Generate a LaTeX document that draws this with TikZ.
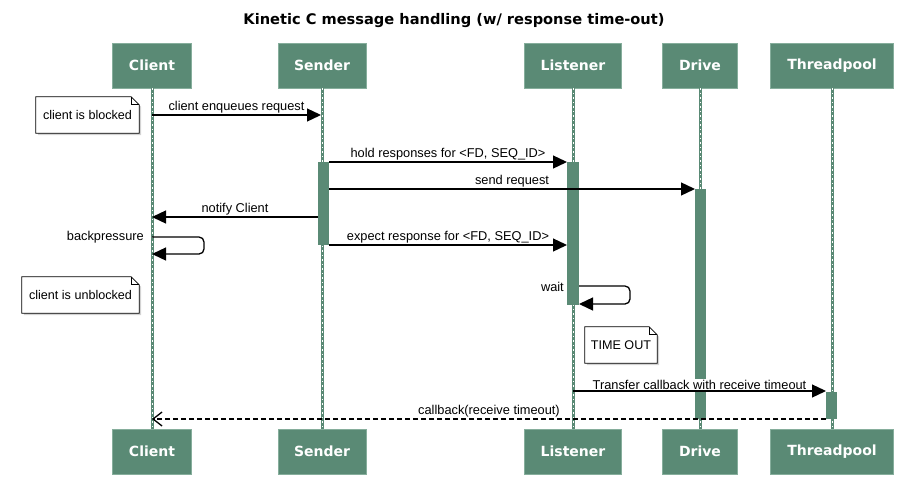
\documentclass[tikz,border=0pt]{standalone}
\usepackage{fontspec}
\setmainfont{Liberation Sans}
\newfontfamily\headfont{DejaVu Sans}
\usetikzlibrary{arrows.meta,shadows}
\definecolor{lifegreen}{HTML}{5A8A75}
\definecolor{boxedge}{HTML}{86AE9C}
\pgfdeclarelayer{back}
\pgfsetlayers{back,main}
\tikzset{
  actor/.style={fill=lifegreen, draw=boxedge, line width=0.8pt, text=white, font=\headfont\bfseries\fontsize{14}{16}\selectfont, minimum height=45pt, inner sep=0pt},
  life/.style={draw=lifegreen, line width=3pt},
  lifedash/.style={draw=white, line width=0.6pt, dash pattern=on 1.5pt off 3pt},
  act/.style={fill=lifegreen, draw=none},
  msg/.style={draw=black, line width=1.3pt, -{Triangle[length=14pt,width=13pt]}},
  ret/.style={draw=black, line width=1.3pt, dash pattern=on 5pt off 3pt, -{Straight Barb[length=9pt,width=14pt]}},
  lab/.style={font=\fontsize{12.8}{15}\selectfont, inner sep=1pt, anchor=south},
  notebox/.style={minimum height=36pt, font=\fontsize{12.6}{15}\selectfont, inner sep=0pt},
  noteline/.style={fill=white, draw=black, line width=0.8pt},
}
\newcommand{\notefold}[1]{%
  \begin{pgfonlayer}{back}
    \path[noteline, drop shadow={shadow xshift=2pt, shadow yshift=-2pt, opacity=0.35}]
      (#1.north west) -- ([xshift=-8pt]#1.north east) -- ([yshift=-8pt]#1.north east)
      -- (#1.south east) -- (#1.south west) -- cycle;
    \draw[line width=0.8pt] ([xshift=-8pt]#1.north east) |- ([yshift=-8pt]#1.north east);
  \end{pgfonlayer}}

\begin{document}
\begin{tikzpicture}[x=1pt,y=-1pt]
  \useasboundingbox (0,0) rectangle (906,482);
  \node[font=\headfont\bfseries\fontsize{14.6}{17}\selectfont] (title) at (454,21) {Kinetic C message handling (w/ response time-out)};

  % participants, top and bottom, with lifelines
  \foreach \n/\t/\x/\w in {client/Client/152/79, sender/Sender/322/88, listener/Listener/573/97, drive/Drive/700/75, pool/Threadpool/832/123}{
    \node[actor, minimum width=\w pt] (\n) at (\x,65.5) {\t};
    \node[actor, minimum width=\w pt] (\n-b) at (\x,451.5) {\t};
    \draw[life] (\n.south) -- (\n-b.north);
    \draw[lifedash] (\n.south) -- (\n-b.north);
  }

  % activations
  \path[act] (318,162) rectangle (329,245);
  \path[act] (567,162) rectangle (579,305);
  \path[act] (695,189) rectangle (706,419);
  \path[act] (826,392) rectangle (837,419);

  % notes
  \node[notebox, minimum width=103pt] (blocked) at (87.5,115) {client is blocked};
  \notefold{blocked}
  \node[notebox, minimum width=117pt] (unblocked) at (80.5,295) {client is unblocked};
  \notefold{unblocked}
  \node[notebox, minimum width=72pt] (timeout) at (621,345) {TIME OUT};
  \notefold{timeout}

  % messages
  \coordinate (enq-a) at (152,115);  \coordinate (enq-b) at (321,115);
  \draw[msg] (enq-a) -- node[lab] {client enqueues request} (enq-b);

  \coordinate (hold-a) at (329,162); \coordinate (hold-b) at (567,162);
  \draw[msg] (hold-a) -- node[lab] {hold responses for <FD, SEQ\_ID>} (hold-b);

  \coordinate (send-a) at (329,189); \coordinate (send-b) at (695,189);
  \draw[msg] (send-a) -- node[lab] {send request} (send-b);

  \coordinate (notify-a) at (318,217); \coordinate (notify-b) at (152,217);
  \draw[msg] (notify-a) -- node[lab] {notify Client} (notify-b);

  \coordinate (bp-a) at (152,237); \coordinate (bp-b) at (152,254);
  \draw[msg, rounded corners=5pt] (bp-a) -- ++(52,0) |- (bp-b);
  \node[lab, anchor=east] (bp-lab) at ([xshift=-7pt]bp-a) {backpressure};

  \coordinate (exp-a) at (329,245); \coordinate (exp-b) at (567,245);
  \draw[msg] (exp-a) -- node[lab] {expect response for <FD, SEQ\_ID>} (exp-b);

  \coordinate (wait-a) at (579,286); \coordinate (wait-b) at (579,304);
  \draw[msg, rounded corners=5pt] (wait-a) -- ++(51,0) |- (wait-b);
  \node[lab, anchor=east] (wait-lab) at (565,287) {wait};

  \coordinate (xfer-a) at (573,391); \coordinate (xfer-b) at (826,391);
  \draw[msg] (xfer-a) -- node[lab, fill=white] {Transfer callback with receive timeout} (xfer-b);

  \coordinate (cb-a) at (826,419); \coordinate (cb-b) at (152,419);
  \draw[ret] (cb-a) -- node[lab] {callback(receive timeout)} (cb-b);
\end{tikzpicture}
\end{document}
